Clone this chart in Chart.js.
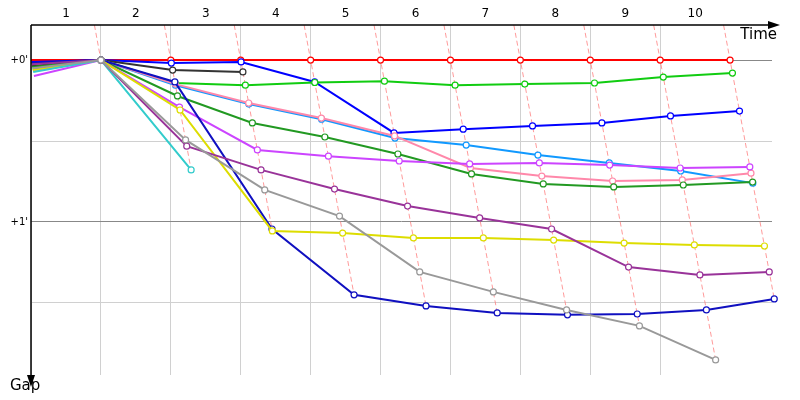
<!DOCTYPE html>
<html>
<head>
<meta charset="utf-8">
<script src="https://cdn.jsdelivr.net/npm/chart.js@4"></script>
<style>
  html, body { margin: 0; padding: 0; background: #fff; }
  #wrap { width: 800px; height: 400px; }
</style>
</head>
<body>
<div id="wrap"><canvas id="c"></canvas></div>
<script>
// gap to leader in seconds, index = lap (0 = start)
const lapSeconds = 140;
const lapLabels = ['1', '2', '3', '4', '5', '6', '7', '8', '9', '10'];
const gapTicks = [0, 30, 60, 90];

const red     = [0, 0, 0, 0, 0, 0, 0, 0, 0, 0, 0];
const blue    = [0.7, 0, 1.1, 0.7, 8.1, 27.0, 25.6, 24.4, 23.3, 20.7, 18.9];
const black   = [2.2, 0, 3.7, 4.4];
const green   = [3.3, 0, 8.5, 9.3, 8.3, 7.8, 9.3, 8.9, 8.5, 6.3, 4.8];
const skyBlue = [4.0, 0, 9.3, 16.3, 21.9, 28.9, 31.5, 35.2, 38.1, 41.1, 45.6];
const pink    = [4.0, 0, 8.9, 15.9, 21.5, 28.1, 40.0, 43.0, 44.8, 44.4, 41.9];
const dkGreen = [2.6, 0, 13.3, 23.3, 28.5, 34.8, 42.2, 45.9, 47.0, 46.3, 45.2];
const magenta = [5.9, 0, 17.4, 33.3, 35.6, 37.4, 38.5, 38.1, 38.9, 40.0, 39.6];
const yellow  = [3.7, 0, 18.5, 63.3, 64.1, 65.9, 65.9, 66.7, 67.8, 68.5, 68.9];
const navy    = [1.1, 0, 8.1, 62.6, 87.0, 91.1, 93.7, 94.4, 94.1, 92.6, 88.5];
const gray    = [3.0, 0, 29.6, 48.1, 57.8, 78.5, 85.9, 92.6, 98.5, 111.1];
const purple  = [1.5, 0, 31.9, 40.7, 47.8, 54.1, 58.5, 62.6, 76.7, 79.6, 78.5];
const cyan    = [4.4, 0, 40.7];

const drivers = [
  [gray, '#999999'], [purple, '#993399'], [cyan, '#33cccc'], [yellow, '#dddd00'],
  [navy, '#1010c0'], [magenta, '#cc44ff'], [dkGreen, '#229922'], [pink, '#ff88aa'],
  [skyBlue, '#1199ff'], [green, '#11cc11'], [black, '#333333'], [blue, '#0000ff'],
  [red, '#ff0000']
];

const toPoints = gaps => gaps.map((g, lap) => ({ x: lap + g / lapSeconds, y: g }));

const datasets = [];
// pink dashed lap lines
for (let lap = 1; lap <= 10; lap++) {
  let maxGap = 0;
  drivers.forEach(([g]) => { if (g.length > lap) maxGap = Math.max(maxGap, g[lap]); });
  datasets.push({
    data: [{ x: lap - 13 / lapSeconds, y: -13 }, { x: lap + maxGap / lapSeconds, y: maxGap }],
    borderColor: 'rgba(255,120,120,0.75)', borderWidth: 1, borderDash: [5, 3],
    pointRadius: 0, order: 20, clip: false
  });
}
drivers.forEach(([g, col]) => {
  datasets.push({
    data: toPoints(g), borderColor: col, borderWidth: 2,
    pointRadius: g.map((_, i) => (i === 0 ? 0 : 3)), pointBackgroundColor: '#fff', pointBorderColor: col,
    pointBorderWidth: 1.2, order: 1, clip: false
  });
});

const arrows = {
  id: 'arrows',
  afterDraw(chart) {
    const { ctx, chartArea: a } = chart;
    ctx.save();
    ctx.strokeStyle = '#000'; ctx.fillStyle = '#000'; ctx.lineWidth = 1.5;
    ctx.beginPath();
    ctx.moveTo(a.left, a.top); ctx.lineTo(775, a.top);
    ctx.moveTo(a.left, a.top); ctx.lineTo(a.left, 382);
    ctx.stroke();
    ctx.beginPath();
    ctx.moveTo(780, a.top); ctx.lineTo(768, a.top - 4); ctx.lineTo(768, a.top + 4); ctx.fill();
    ctx.beginPath();
    ctx.moveTo(a.left, 387); ctx.lineTo(a.left - 4, 375); ctx.lineTo(a.left + 4, 375); ctx.fill();
    ctx.font = '15px "DejaVu Sans"';
    ctx.textBaseline = 'middle';
    ctx.textAlign = 'right'; ctx.fillText('Time', 777, 35);
    ctx.textAlign = 'left'; ctx.fillText('Gap', 10, 386);
    ctx.restore();
  }
};

new Chart(document.getElementById('c'), {
  type: 'line',
  data: { datasets },
  plugins: [arrows],
  options: {
    responsive: true, maintainAspectRatio: false, animation: false,
    layout: { padding: { right: 28, bottom: 25 } },
    plugins: { legend: { display: false }, tooltip: { enabled: false } },
    scales: {
      x: {
        type: 'linear', position: 'top', min: 0, max: 10.6,
        afterBuildTicks: s => { s.ticks = lapLabels.map((_, i) => ({ value: i })); },
        afterFit: s => { s.height = 25; },
        border: { display: false },
        grid: { color: '#d0d0d0', drawTicks: false },
        ticks: {
          callback: (v, i) => lapLabels[i], labelOffset: 35, padding: 4,
          maxRotation: 0, autoSkip: false,
          font: { family: 'DejaVu Sans', size: 12 }, color: '#000'
        }
      },
      y: {
        type: 'linear', reverse: true, min: -13, max: 116.7,
        afterBuildTicks: s => { s.ticks = gapTicks.map(v => ({ value: v })); },
        afterFit: s => { s.width = 31; },
        border: { display: false },
        grid: { color: c => (c.tick.value % 60 === 0 ? '#888' : '#d0d0d0'), drawTicks: false },
        ticks: {
          callback: v => (v % 60 === 0 ? "+" + v / 60 + "'" : ''), padding: 3,
          font: { family: 'DejaVu Sans', size: 10 }, color: '#000'
        }
      }
    }
  }
});
</script>
</body>
</html>
